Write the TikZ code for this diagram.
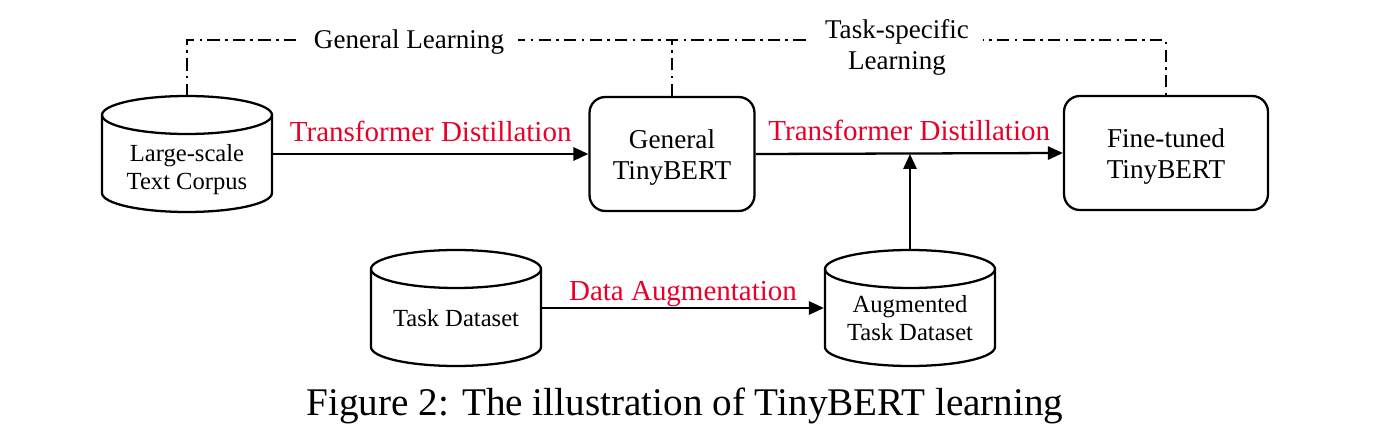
\documentclass[tikz,border=0pt]{standalone}
\usepackage{fontspec}
\setmainfont{Liberation Serif}
\usetikzlibrary{shapes.geometric,arrows.meta,positioning,calc}
\definecolor{distred}{RGB}{232,0,40}

\begin{document}
\begin{tikzpicture}[x=0.02cm,y=-0.02cm,
      line width=1.3pt,
      store/.style={align=center,font=\fontsize{14}{16}\selectfont, minimum width=3.4cm, text height=41pt, text depth=3pt},
      model/.style={draw,rounded corners=9pt,align=center,font=\fontsize{15.5}{17.8}\selectfont, minimum width=3.3cm, minimum height=2.28cm, text height=33.5pt, text depth=4pt},
      flow/.style={-{Triangle[length=8.5pt,width=7.5pt]}},
      tag/.style={above,text=distred,font=\fontsize{16.5}{19}\selectfont},
      learn/.style={line width=1.1pt,dash pattern=on 7pt off 3pt on 1.5pt off 3pt},
      stage/.style={fill=white,align=center,font=\fontsize{15.4}{17.6}\selectfont,inner xsep=8pt}
      ]
      \useasboundingbox (0,0) rectangle (1384,446);
      \node[store, text height=43pt] (corpus) at (187,154) {Large-scale\\Text Corpus};
      \node[model] (general) at (672,154) {General\\TinyBERT};
      \node[model, minimum width=4.08cm] (finetuned) at (1166,153) {Fine-tuned\\TinyBERT};
      \node[store, text height=20.6pt, text depth=0pt] (task) at (456,308) {Task Dataset};
      \node[store, text height=39.6pt] (augmented) at (910,308) {Augmented\\Task Dataset};

      % cylinders
      \foreach \db in {corpus,task,augmented}{
        \draw ($(\db.center)+(-85,-39)$) -- ($(\db.center)+(-85,39)$)
          arc[start angle=180, end angle=360, x radius=1.7cm, y radius=0.38cm]
          -- ($(\db.center)+(85,-39)$);
        \draw ($(\db.center)+(0,-39)$) ellipse[x radius=1.7cm, y radius=0.38cm];
        \coordinate (\db-top) at ($(\db.center)+(0,-58)$);
      }
      \coordinate (top) at (0,40);

      % learning stages
      \draw[learn] (corpus-top) |- (top -| general.north) -| (finetuned.north);
      \draw[learn] (general.north) -- (general.north |- top);
      \node[stage] (genlearn) at (409,42) {General Learning};
      \node[stage] (tasklearn) at (897,47) {Task-specific\\Learning};

      \draw[flow] (corpus.east) -- node[tag,yshift=3pt] {Transformer Distillation} (general.west);
      \draw[flow] (general.east) -- node[tag,yshift=3pt] {Transformer Distillation} (finetuned.west);
      \draw[flow] (task.east) -- node[tag,yshift=-3.4pt] {Data Augmentation} (augmented.west);
      \draw[flow] (augmented-top) -- (augmented-top |- general.east);

      \node[font=\fontsize{22.3}{26}\selectfont] (caption) at (685,406) {Figure 2: The illustration of TinyBERT learning};
    \end{tikzpicture}
\end{document}
